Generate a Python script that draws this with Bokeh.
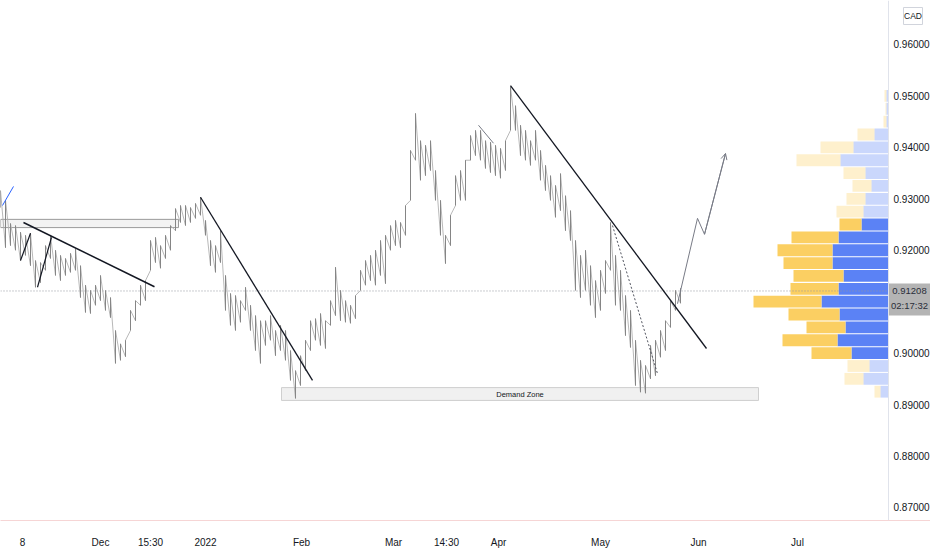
from bokeh.plotting import figure
from bokeh.models import (Range1d, FixedTicker, Span, Label, Arrow, OpenHead, ColumnDataSource)
from bokeh.embed import file_html
from bokeh.resources import INLINE
from bokeh.core.properties import value

# ---------------- data ----------------
# price bars: one sample every ~1.5 trading days, high / low of the cluster
bar_high = [0.9316,0.9297,0.9252,0.9248,0.9235,0.9229,0.9233,0.9180,0.9176,0.9209,
            0.9229,0.9200,0.9190,0.9184,0.9194,0.9203,0.9170,0.9132,0.9122,0.9132,
            0.9151,0.9122,0.9108,0.9044,0.9018,0.9025,0.9083,0.9102,0.9132,0.9141,
            0.9219,0.9225,0.9209,0.9229,0.9248,0.9281,0.9287,0.9287,0.9283,0.9291,
            0.9303,0.9258,0.9219,0.9209,0.9238,0.9151,0.9116,0.9112,0.9102,0.9128,
            0.9093,0.9073,0.9063,0.9063,0.9073,0.9044,0.9054,0.9044,0.9005,0.8966,
            0.8995,0.9025,0.9063,0.9067,0.9077,0.9063,0.9102,0.9167,0.9122,0.9102,
            0.9093,0.9112,0.9161,0.9180,0.9190,0.9200,0.9219,0.9229,0.9248,0.9258,
            0.9254,0.9287,0.9394,0.9466,0.9413,0.9404,0.9413,0.9355,0.9297,0.9229,
            0.9268,0.9345,0.9355,0.9375,0.9423,0.9433,0.9433,0.9413,0.9410,0.9404,
            0.9398,0.9413,0.9518,0.9481,0.9443,0.9433,0.9413,0.9433,0.9394,0.9365,
            0.9345,0.9326,0.9349,0.9306,0.9277,0.9219,0.9190,0.9200,0.9170,0.9141,
            0.9161,0.9180,0.9254,0.9190,0.9161,0.9112,0.9083,0.9025,0.8986,0.8976,
            0.9015,0.9025,0.9044,0.9063,0.9102,0.9122,0.9126]
bar_low = [0.9283,0.9205,0.9209,0.9200,0.9180,0.9190,0.9170,0.9128,0.9137,0.9161,
           0.9184,0.9151,0.9141,0.9151,0.9157,0.9161,0.9108,0.9079,0.9077,0.9093,
           0.9102,0.9083,0.9069,0.8980,0.8986,0.8993,0.9044,0.9063,0.9093,0.9102,
           0.9161,0.9176,0.9165,0.9184,0.9200,0.9238,0.9254,0.9248,0.9254,0.9262,
           0.9268,0.9229,0.9170,0.9157,0.9176,0.9083,0.9054,0.9044,0.9060,0.9083,
           0.9044,0.9005,0.8980,0.9015,0.9025,0.8995,0.9005,0.8986,0.8947,0.8912,
           0.8937,0.8966,0.9005,0.9025,0.9015,0.9009,0.9054,0.9073,0.9063,0.9060,
           0.9058,0.9067,0.9122,0.9132,0.9141,0.9132,0.9151,0.9135,0.9200,0.9209,
           0.9205,0.9229,0.9297,0.9375,0.9336,0.9345,0.9355,0.9297,0.9229,0.9174,
           0.9209,0.9287,0.9297,0.9297,0.9375,0.9384,0.9375,0.9359,0.9351,0.9345,
           0.9340,0.9355,0.9433,0.9433,0.9384,0.9375,0.9365,0.9375,0.9336,0.9316,
           0.9297,0.9264,0.9277,0.9238,0.9219,0.9122,0.9108,0.9122,0.9093,0.9069,
           0.9083,0.9116,0.9161,0.9093,0.9083,0.9034,0.9011,0.8937,0.8924,0.8922,
           0.8950,0.8956,0.8992,0.9005,0.9050,0.9083,0.9097]
bar_x = list(range(len(bar_high)))

last_price = 0.91208
last_price_text = "0.91208"
countdown_text = "02:17:32"
currency_text = "CAD"

x_tick_pos = [4.4, 20, 30, 41, 60.2, 78.6, 89.2, 99.6, 120, 139.6, 159.4]
x_tick_labels = ["8", "Dec", "15:30", "2022", "Feb", "Mar", "14:30", "Apr", "May", "Jun", "Jul"]
y_ticks = [0.87, 0.88, 0.89, 0.90, 0.92, 0.93, 0.94, 0.95, 0.96]
y_tick_labels = ["0.87000", "0.88000", "0.89000", "0.90000", "0.92000",
                 "0.93000", "0.94000", "0.95000", "0.96000"]

# volume profile (visible range)
vp_price = [0.8925, 0.8950, 0.8975, 0.9000, 0.9025, 0.9050, 0.9075, 0.9100,
            0.9125, 0.9150, 0.9175, 0.9200, 0.9225, 0.9250, 0.9275, 0.9300,
            0.9325, 0.9350, 0.9375, 0.9400, 0.9425, 0.9450, 0.9475, 0.9500]
vp_blue = [8, 25, 19, 37, 51, 43, 49, 67, 50, 45, 56, 56, 50, 27, 25, 23, 17, 23, 48, 35, 14, 2, 2, 2]
vp_yellow = [6, 19, 22, 40, 55, 39, 51, 68, 48, 50, 49, 55, 47, 22, 27, 19, 19, 22, 44, 33, 17, 3, 1, 2]
vp_value_area = [False, False, False, True, True, True, True, True, True, True, True, True,
                 True, True, False, False, False, False, False, False, False, False, False, False]

# drawings (x in bar units, y in price)
trend_lines = [  # x0, y0, x1, y1, colour, width, dash
    (0.4, 0.9287, 2.6, 0.9324, "#2962ff", 1.0, "solid"),
    (4.0, 0.9180, 6.0, 0.9233, "#131722", 1.2, "solid"),
    (7.4, 0.9128, 10.2, 0.9225, "#131722", 1.2, "solid"),
    (4.6, 0.9254, 30.8, 0.9129, "#131722", 1.5, "solid"),
    (40.0, 0.9303, 62.4, 0.8947, "#131722", 1.3, "solid"),
    (102.0, 0.9520, 141.2, 0.9009, "#131722", 1.3, "solid"),
    (122.4, 0.9248, 131.4, 0.8960, "#50535e", 1.0, "2 2"),
    (95.6, 0.9443, 98.6, 0.9408, "#787b86", 1.0, "solid"),
]
path_x = [135.4, 139.4, 140.8, 145.0]
path_y = [0.9096, 0.9262, 0.9231, 0.9388]
supply_box = (0.0, 35.6, 0.9244, 0.9260)
demand_box = (56.2, 151.6, 0.8908, 0.8933)
demand_text = "Demand Zone"

# layout constants (bar units / price units)
X_END = 186.0          # right edge of drawing area
AXIS_X = 177.6         # price scale border
LABEL_X = 178.6
TAG = (177.6, 186.0, 0.90731, 0.91353)
TAG_CX = 181.8
BADGE = (180.6, 184.4, 0.96388, 0.96719)

FONT = "Liberation Sans"

p = figure(frame_width=930, frame_height=520,
           x_range=Range1d(0, X_END), y_range=Range1d(0.86746, 0.96855),
           y_axis_location=None, output_backend="svg", toolbar_location=None,
           min_border_left=0, min_border_top=0, min_border_right=0, min_border_bottom=0,
           background_fill_color="white", border_fill_color="white")
p.outline_line_color = None
p.xgrid.visible = False
p.ygrid.visible = False

p.extra_x_ranges = {"vp": Range1d(-888, 42)}

# volume profile
blue_left = [-b for b in vp_blue]
yel_left = [-(b + y) for b, y in zip(vp_blue, vp_yellow)]
vp_src = ColumnDataSource(dict(
    y=vp_price, bl=blue_left, yl=yel_left, zero=[0] * len(vp_price),
    alpha=[1.0 if v else 0.32 for v in vp_value_area]))
p.hbar(y="y", left="bl", right="zero", height=0.0023, source=vp_src, x_range_name="vp",
       fill_color="#5b82f5", fill_alpha="alpha", line_color=None)
p.hbar(y="y", left="yl", right="bl", height=0.0023, source=vp_src, x_range_name="vp",
       fill_color="#fbcf62", fill_alpha="alpha", line_color=None)

# zones
p.quad(left=[supply_box[0]], right=[supply_box[1]], bottom=[supply_box[2]], top=[supply_box[3]],
       fill_color="#f3f3f3", line_color="#9a9a9a", line_width=1)
p.quad(left=[demand_box[0]], right=[demand_box[1]], bottom=[demand_box[2]], top=[demand_box[3]],
       fill_color="#f0f0f0", line_color="#cfcfcf", line_width=1)
p.add_layout(Label(x=(demand_box[0] + demand_box[1]) / 2, y=(demand_box[2] + demand_box[3]) / 2,
                   text=demand_text, text_align="center", text_baseline="middle",
                   text_font=FONT, text_font_size="7.5px", text_color="#131722"))

# last price line
p.line([0, AXIS_X], [last_price, last_price], line_color="#9598a1", line_dash="1 2", line_width=1)

# price bars
zz_x, zz_y = [], []
for x, lo, hi in zip(bar_x, bar_low, bar_high):
    zz_x += [x, x]
    zz_y += [lo, hi]
p.line(zz_x, zz_y, line_color="#b0b0b0", line_width=0.9)
p.segment(x0=bar_x, y0=bar_low, x1=bar_x, y1=bar_high, line_color="#858585", line_width=1.0)

# drawings
for x0, y0, x1, y1, col, w, dash in trend_lines:
    p.line([x0, x1], [y0, y1], line_color=col, line_width=w, line_dash=dash)
p.line(path_x, path_y, line_color="#787b86", line_width=1)
p.add_layout(Arrow(end=OpenHead(size=6, line_color="#787b86", line_width=1),
                   x_start=path_x[-2], y_start=path_y[-2], x_end=path_x[-1], y_end=path_y[-1],
                   line_color="#787b86", line_width=1))

# price scale (right)
p.add_layout(Span(location=AXIS_X, dimension="height", line_color="#e0e3eb", line_width=1))
p.text(x=[LABEL_X] * len(y_ticks), y=y_ticks, text=y_tick_labels,
       text_align="left", text_baseline="middle", text_font=value(FONT),
       text_font_size="10px", text_color="#131722")

# price tag
p.quad(left=[TAG[0]], right=[TAG[1]], bottom=[TAG[2]], top=[TAG[3]],
       fill_color="#b4b4b4", line_color=None)
p.text(x=[TAG_CX, TAG_CX], y=[last_price, last_price], text=[last_price_text, countdown_text],
       y_offset=[0, 15], text_align="center", text_baseline="middle", text_font=value(FONT),
       text_font_size="9.5px", text_color="#2a2e39")

# currency badge
p.quad(left=[BADGE[0]], right=[BADGE[1]], bottom=[BADGE[2]], top=[BADGE[3]],
       fill_color="white", line_color="#d1d4dc", line_width=1)
p.text(x=[(BADGE[0] + BADGE[1]) / 2], y=[(BADGE[2] + BADGE[3]) / 2], text=[currency_text],
       text_align="center", text_baseline="middle", text_font=value(FONT),
       text_font_size="8.5px", text_color="#131722")

# time axis
p.xaxis.ticker = FixedTicker(ticks=x_tick_pos)
p.xaxis.major_label_overrides = {t: l for t, l in zip(x_tick_pos, x_tick_labels)}
p.xaxis.major_tick_line_color = None
p.xaxis.minor_tick_line_color = None
p.xaxis.major_label_standoff = 10
p.xaxis.axis_line_color = "#f6d5d5"
p.xaxis.major_label_text_font = FONT
p.xaxis.major_label_text_font_size = "10px"
p.xaxis.major_label_text_color = "#131722"

open("out.html", "w").write(file_html(p, INLINE))
